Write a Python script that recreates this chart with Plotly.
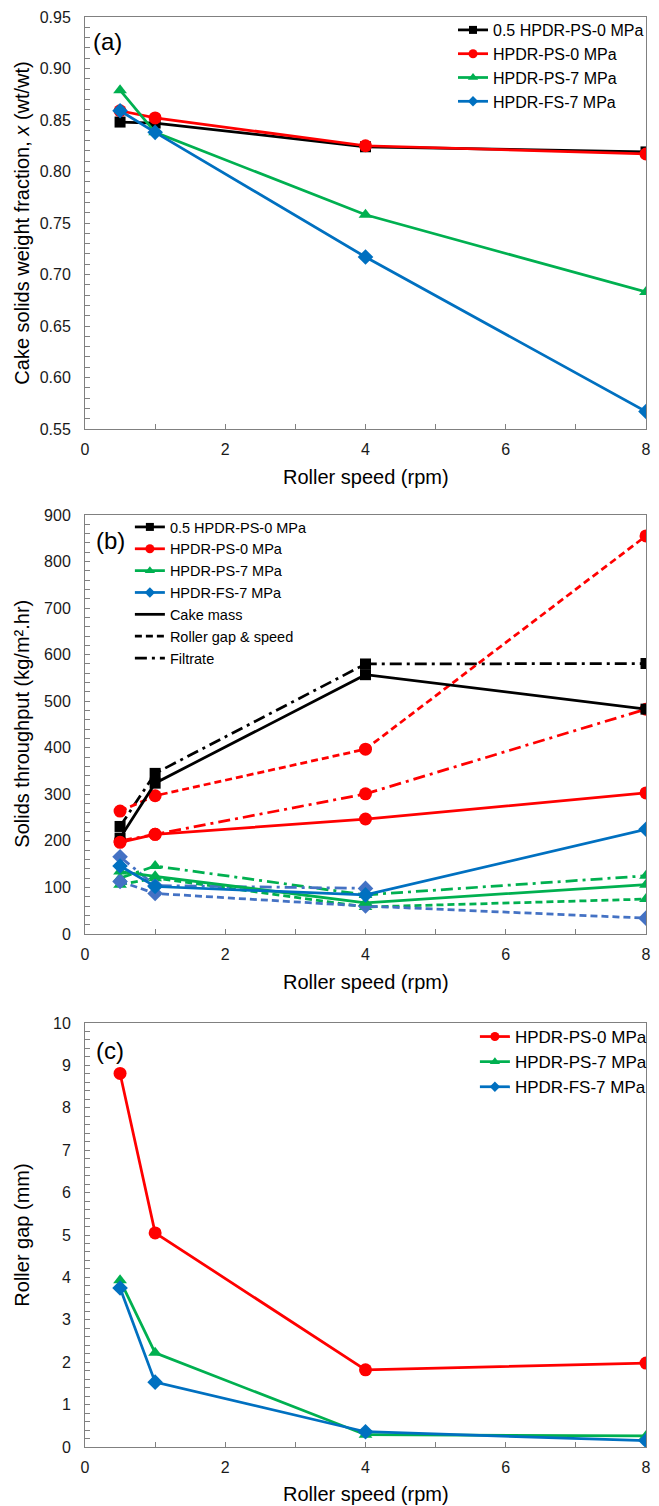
import plotly.graph_objects as go

# ---------------- data ----------------
speed = [0.5, 1, 4, 8]

# (a) cake solids weight fraction
a_black = [0.848, 0.847, 0.824, 0.819]
a_red = [0.859, 0.852, 0.825, 0.817]
a_green = [0.879, 0.838, 0.758, 0.683]
a_blue = [0.859, 0.838, 0.717, 0.567]

# (b) solids throughput (kg/m2.hr)
b_black_cake = [206, 324, 557, 483]
b_black_filtrate = [231, 345, 580, 581]
b_red_cake = [197, 214, 247, 303]
b_red_gap = [264, 297, 397, 855]
b_red_filtrate = [200, 214, 301, 483]
b_green_cake = [134, 124, 67, 106]
b_green_gap = [106, 120, 58, 75]
b_green_filtrate = [120, 146, 84, 125]
b_blue_cake = [146, 102, 84, 225]
b_blue_gap = [113, 87, 60, 34]
speed_blue_filtrate = [0.5, 1, 4]
b_blue_filtrate = [166, 104, 98]

# (c) roller gap (mm)
c_red = [8.81, 5.05, 1.82, 1.98]
c_green = [3.93, 2.22, 0.29, 0.26]
c_blue = [3.75, 1.53, 0.36, 0.15]

names = ["0.5 HPDR-PS-0 MPa", "HPDR-PS-0 MPa", "HPDR-PS-7 MPa", "HPDR-FS-7 MPa"]
line_names = ["Cake mass", "Roller gap & speed", "Filtrate"]

# ---------------- styles ----------------
BLACK, RED, GREEN, BLUE, LBLUE = "#000000", "#FF0000", "#00B050", "#0070C0", "#4472C4"
KEYS = ["black", "red", "green", "blue"]
COL = {"black": BLACK, "red": RED, "green": GREEN, "blue": BLUE}
SYM = {"black": "square", "red": "circle", "green": "triangle-up", "blue": "diamond"}
MS = {"black": 11, "red": 13, "green": 12, "blue": 12}
LMS = {"black": 8, "red": 9, "green": 9, "blue": 8}
DASH = "7px,4px"
DASHDOT = "12px,5px,3px,5px"
LW = 2.75
FONT = "Arial, Liberation Sans, sans-serif"

fig = go.Figure()


def add(x, y, color, key, xa, ya, dash="solid"):
    fig.add_trace(go.Scatter(
        x=x, y=y, mode="lines+markers", name=key,
        line=dict(color=color, width=LW, dash=dash),
        marker=dict(symbol=SYM[key], size=MS[key], color=color),
        xaxis=xa, yaxis=ya, showlegend=False,
    ))


def legend_entry(key, name, xa, ya, legend):
    fig.add_trace(go.Scatter(
        x=[None], y=[None], mode="lines+markers", name=name,
        line=dict(color=COL[key], width=LW),
        marker=dict(symbol=SYM[key], size=LMS[key], color=COL[key]),
        xaxis=xa, yaxis=ya, legend=legend, showlegend=True,
    ))


# (a)
add(speed, a_black, BLACK, "black", "x", "y")
add(speed, a_red, RED, "red", "x", "y")
add(speed, a_green, GREEN, "green", "x", "y")
add(speed, a_blue, BLUE, "blue", "x", "y")
for k, n in zip(KEYS, names):
    legend_entry(k, n, "x", "y", "legend")

# (b)
add(speed, b_black_filtrate, BLACK, "black", "x2", "y2", DASHDOT)
add(speed, b_red_gap, RED, "red", "x2", "y2", DASH)
add(speed, b_red_filtrate, RED, "red", "x2", "y2", DASHDOT)
add(speed, b_green_gap, GREEN, "green", "x2", "y2", DASH)
add(speed, b_green_filtrate, GREEN, "green", "x2", "y2", DASHDOT)
add(speed, b_blue_gap, LBLUE, "blue", "x2", "y2", DASH)
add(speed_blue_filtrate, b_blue_filtrate, LBLUE, "blue", "x2", "y2", DASHDOT)
add(speed, b_black_cake, BLACK, "black", "x2", "y2")
add(speed, b_red_cake, RED, "red", "x2", "y2")
add(speed, b_green_cake, GREEN, "green", "x2", "y2")
add(speed, b_blue_cake, BLUE, "blue", "x2", "y2")
for k, n in zip(KEYS, names):
    legend_entry(k, n, "x2", "y2", "legend2")
for nm, d in zip(line_names, ["solid", DASH, DASHDOT]):
    fig.add_trace(go.Scatter(x=[None], y=[None], mode="lines", name=nm,
                             line=dict(color=BLACK, width=LW, dash=d),
                             xaxis="x2", yaxis="y2", legend="legend2", showlegend=True))

# (c)
add(speed, c_red, RED, "red", "x3", "y3")
add(speed, c_green, GREEN, "green", "x3", "y3")
add(speed, c_blue, BLUE, "blue", "x3", "y3")
for k, n in zip(KEYS[1:], names[1:]):
    legend_entry(k, n, "x3", "y3", "legend3")

# ---------------- layout ----------------
AX = "#808080"
tickfont = dict(family=FONT, size=16, color="#1a1a1a")


def xax(anchor):
    return dict(range=[0, 8], dtick=2, tick0=0, ticks="inside", ticklen=5, tickcolor=AX,
                showline=True, linecolor=AX, linewidth=1, mirror=True, showgrid=False,
                zeroline=False, tickfont=tickfont, ticklabelstandoff=6, anchor=anchor,
                minor=dict(dtick=1, tick0=0, ticks="inside", ticklen=5, tickcolor=AX, showgrid=False))


def yax(rng, dtick, mdtick, fmt, domain, anchor):
    return dict(range=rng, dtick=dtick, tick0=rng[0], ticks="inside", ticklen=5, tickcolor=AX,
                showline=True, linecolor=AX, linewidth=1, mirror=True, showgrid=False,
                zeroline=False, tickfont=tickfont, tickformat=fmt, ticklabelstandoff=10,
                domain=domain, anchor=anchor,
                minor=dict(dtick=mdtick, tick0=rng[0], ticks="inside", ticklen=5, tickcolor=AX, showgrid=False))


H = 1506
T, B = 17, 59
PH = H - T - B


def py(px):
    return (H - B - px) / PH


dom_a = [py(429), 1.0]
dom_b = [py(934), py(515)]
dom_c = [0.0, py(1023)]

fig.update_layout(
    width=659, height=H,
    margin=dict(l=85, r=7, t=T, b=B),
    paper_bgcolor="white", plot_bgcolor="white",
    font=dict(family=FONT, color="#000000"),
    xaxis=xax("y"), xaxis2=xax("y2"), xaxis3=xax("y3"),
    yaxis=yax([0.55, 0.95], 0.05, 0.01, ".2f", dom_a, "x"),
    yaxis2=yax([0, 900], 100, 20, "d", dom_b, "x2"),
    yaxis3=yax([0, 10], 1, 0.2, "d", dom_c, "x3"),
    legend=dict(x=0.656, y=py(13), xanchor="left", yanchor="top", bgcolor="rgba(0,0,0,0)",
                font=dict(family=FONT, size=16, color="#000000"), tracegroupgap=0),
    legend2=dict(x=0.08, y=py(511), xanchor="left", yanchor="top", bgcolor="rgba(0,0,0,0)",
                 font=dict(family=FONT, size=14.5, color="#000000"), tracegroupgap=0),
    legend3=dict(x=0.695, y=py(1019), xanchor="left", yanchor="top", bgcolor="rgba(0,0,0,0)",
                 font=dict(family=FONT, size=17, color="#000000"), tracegroupgap=0),
    showlegend=True,
)

PW = 659 - 85 - 7


def pxx(px):
    return (px - 85) / PW


annos = [
    ("(a)", pxx(108), py(41), 24, 0),
    ("(b)", pxx(111), py(541), 24, 0),
    ("(c)", pxx(110), py(1050), 24, 0),
    ("Roller speed (rpm)", 0.5, py(477), 20, 0),
    ("Roller speed (rpm)", 0.5, py(982), 20, 0),
    ("Roller speed (rpm)", 0.5, py(1494), 20, 0),
    ("Cake solids weight fraction, <i>x</i> (wt/wt)", pxx(21), py(223), 20, -90),
    ("Solids throughput (kg/m\u00b2.hr)", pxx(21), py(724), 20, -90),
    ("Roller gap (mm)", pxx(21), py(1235), 20, -90),
]
for text, x, y, size, ang in annos:
    fig.add_annotation(text=text, x=x, y=y, xref="paper", yref="paper", xanchor="center",
                       yanchor="middle", showarrow=False, textangle=ang,
                       font=dict(family=FONT, size=size, color="#000000"))

fig.write_html("out.html", config={"displayModeBar": False},
               post_script="document.body.style.margin='0';document.body.style.overflow='hidden';")
